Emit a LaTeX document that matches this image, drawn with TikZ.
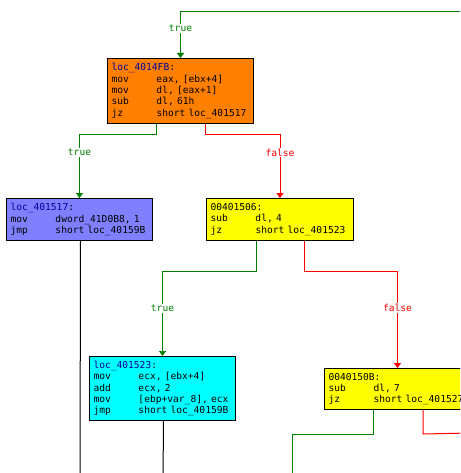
\documentclass[tikz,border=0pt]{standalone}
\usepackage{fontspec}
\setmonofont{DejaVu Sans Mono}
\usetikzlibrary{arrows.meta}
\definecolor{cOrange}{HTML}{FF8000}
\definecolor{cBlue}{HTML}{8080FF}
\definecolor{cCyan}{HTML}{00FFFF}
\definecolor{cYellow}{HTML}{FFFF00}
\definecolor{cGreen}{HTML}{008000}
\definecolor{cRed}{HTML}{FF0000}
\definecolor{cLabel}{HTML}{0000A0}
\newcommand\ins[2]{\mbox{\makebox[45pt][l]{#1}#2}}
\newcommand\loclbl[1]{\mbox{\textcolor{cLabel}{#1}:}}
\begin{document}
\begin{tikzpicture}[x=1pt,y=-1pt,
  mono/.style={font=\ttfamily\fontsize{9.6}{11.4}\selectfont},
  block/.style={mono, draw=black, line width=1pt, anchor=north west, align=left,
    inner xsep=4pt, inner ysep=0pt, text width=138pt},
  edge/.style={line width=1pt},
  tip/.style={-{Triangle[width=7pt,length=5pt]}},
  lab/.style={mono, fill=white, inner sep=1pt},
  ge/.style={edge, draw=cGreen},
  re/.style={edge, draw=cRed},
  be/.style={edge, draw=black}]
\useasboundingbox (0,0) rectangle (460,473);
\clip (0,0) rectangle (460,473);
\fill[white] (0,0) rectangle (460,473);

\node[block, fill=cOrange, minimum height=65pt] (a) at (107,58)
  {\loclbl{loc\_4014FB}\\ \ins{mov}{eax, [ebx+4]}\\ \ins{mov}{dl, [eax+1]}\\ \ins{sub}{dl, 61h}\\ \ins{jz}{short loc\_401517}};
\node[block, fill=cBlue, minimum height=42pt] (b) at (6,198)
  {\loclbl{loc\_401517}\\ \ins{mov}{dword\_41D0B8, 1}\\ \ins{jmp}{short loc\_40159B}};
\node[block, fill=cYellow, minimum height=42pt, text width=139pt] (c) at (206,198)
  {\mbox{00401506:}\\ \ins{sub}{dl, 4}\\ \ins{jz}{short loc\_401523}};
\node[block, fill=cCyan, minimum height=64pt] (d) at (89,356)
  {\loclbl{loc\_401523}\\ \ins{mov}{ecx, [ebx+4]}\\ \ins{add}{ecx, 2}\\ \ins{mov}{[ebp+var\_8], ecx}\\ \ins{jmp}{short loc\_40159B}};
\node[block, fill=cYellow, minimum height=41pt] (e) at (324,368)
  {\mbox{0040150B:}\\ \ins{sub}{dl, 7}\\ \ins{jz}{short loc\_401527}};

\coordinate (top) at (470,12);
\coordinate (bOut) at (80,480);
\coordinate (dOut) at (163,480);
\coordinate (eG) at (292,480);
\coordinate (eR) at (470,433);

\draw[ge, tip] (top) -| node[lab, text=cGreen, pos=0.68] {true} (a.north);
\draw[ge, tip] ([xshift=49pt]a.south west) -- ++(0,11) -| node[lab, text=cGreen, pos=0.64] {true} (b.north);
\draw[re, tip] ([xshift=98pt]a.south west) -- ++(0,11) -| node[lab, text=cRed, pos=0.64] {false} (c.north);
\draw[ge, tip] ([xshift=50pt]c.south west) -- ++(0,30) -| node[lab, text=cGreen, pos=0.72] {true} (d.north);
\draw[re, tip] ([xshift=98pt]c.south west) -- ++(0,30) -| node[lab, text=cRed, pos=0.69] {false} (e.north);
\draw[be] ([xshift=1pt]b.south) -- (bOut);
\draw[be] ([xshift=1pt]d.south) -- (dOut);
\draw[ge] ([xshift=49pt]e.south west) -- ++(0,24) -| (eG);
\draw[re] ([xshift=99pt]e.south west) -- ++(0,24) -- (eR);
\end{tikzpicture}
\end{document}
